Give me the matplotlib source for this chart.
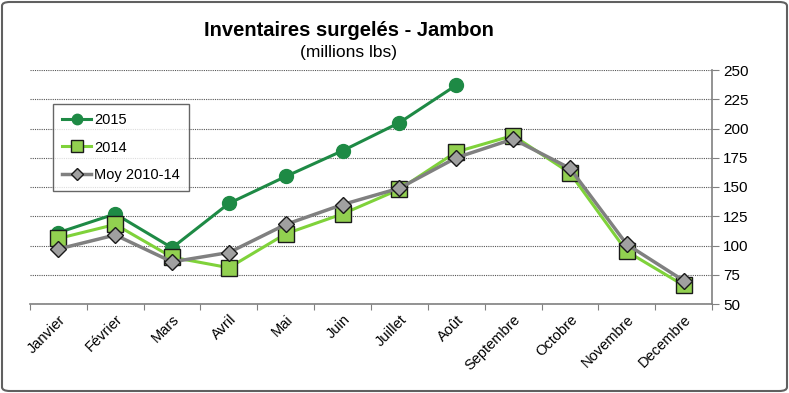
import matplotlib.pyplot as plt
from matplotlib.patches import FancyBboxPatch

plt.rcParams['font.family'] = ['Liberation Sans', 'DejaVu Sans']

mois = ['Janvier', 'Février', 'Mars', 'Avril', 'Mai', 'Juin', 'Juillet',
        'Août', 'Septembre', 'Octobre', 'Novembre', 'Decembre']
val_2015 = [111, 127, 98, 136, 159, 181, 205, 237]
val_2014 = [106, 118, 90, 81, 110, 127, 148, 180, 194, 162, 95, 66]
val_moy = [97, 109, 86, 94, 118, 135, 149, 175, 191, 166, 101, 70]

fig = plt.figure(figsize=(7.89, 3.93), dpi=100)
ax = fig.add_axes([30/789, 1 - 304/393, 682/789, 234/393])

xx = list(range(len(mois)))

ax.plot(xx[:len(val_2015)], val_2015, color='#1e8a45', lw=2.2, marker='o',
        ms=10, mec='#1e8a45', mfc='#1e8a45', label='2015', zorder=3)
ax.plot(xx, val_2014, color='#7fd23a', lw=2.2, marker='s', ms=11,
        mfc='#92d050', mec='#1a1a1a', mew=1, label='2014', zorder=4)
ax.plot(xx, val_moy, color='#808080', lw=2.5, marker='D', ms=8,
        mfc='#a0a0a0', mec='#1a1a1a', mew=1, label='Moy 2010-14', zorder=5)

ax.set_xlim(-0.5, len(mois) - 0.5)
ax.set_ylim(50, 250)
ax.set_yticks(range(50, 251, 25))
ax.yaxis.tick_right()
ax.grid(axis='y', color='#555555', ls=(0, (1, 1)), lw=0.8)
ax.set_axisbelow(True)

ax.set_xticks([i - 0.5 for i in range(len(mois) + 1)], minor=False)
ax.set_xticklabels([])
ax.set_xticks(xx, minor=True)
ax.set_xticklabels(mois, minor=True, rotation=45, ha='right',
                   rotation_mode='anchor', fontsize=10.5)
ax.tick_params(axis='x', which='minor', length=0, pad=6)
ax.tick_params(axis='x', which='major', length=4, color='#808080')
ax.tick_params(axis='y', length=5, color='#808080', labelsize=11, pad=3)

for s in ['top', 'left']:
    ax.spines[s].set_visible(False)
ax.spines['bottom'].set_color('#808080')
ax.spines['right'].set_color('#808080')
ax.spines['bottom'].set_linewidth(1.2)
ax.spines['right'].set_linewidth(1.2)

leg = ax.legend(loc='upper left', bbox_to_anchor=(0.034, 0.855),
                borderaxespad=0, fontsize=10.5, fancybox=False,
                edgecolor='#404040', labelspacing=0.95, handlelength=2.0,
                handletextpad=0.2, borderpad=0.6, markerscale=0.75)
leg.get_frame().set_linewidth(1)

fig.text(349/789, 1 - 30/393, 'Inventaires surgelés - Jambon',
         ha='center', va='center', fontsize=14.5, fontweight='bold')
fig.text(349/789, 1 - 52/393, '(millions lbs)', ha='center', va='center',
         fontsize=12.5)

border = FancyBboxPatch((2/789, 2/393), 785/789, 389/393,
                        boxstyle='round,pad=0,rounding_size=0.01',
                        transform=fig.transFigure, fill=False,
                        edgecolor='#606060', lw=1.5)
fig.patches.append(border)

fig.savefig('out.png', dpi=100)
